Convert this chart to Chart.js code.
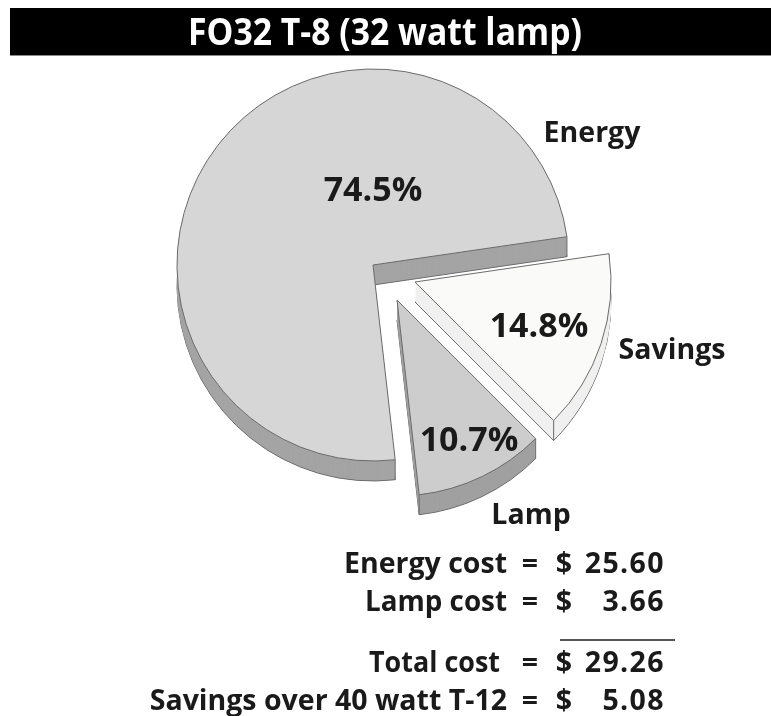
<!DOCTYPE html>
<html>
<head>
<meta charset="utf-8">
<title>FO32 T-8</title>
<script src="https://cdn.jsdelivr.net/npm/chart.js@4"></script>
<style>
  html, body { margin: 0; padding: 0; background: #fff; }
  /* the reference is a soft, scaled-up scan */
  canvas { display: block; filter: blur(0.6px); }
</style>
</head>
<body>
<canvas id="chartdiv" width="771" height="716"></canvas>
<script>
const titleText = "FO32 T-8 (32 watt lamp)";
const categories = ["Energy", "Savings", "Lamp"];
const shares = [74.5, 14.8, 10.7];
const shareLabels = ["74.5%", "14.8%", "10.7%"];
const costNames = ["Energy cost", "Lamp cost", "Total cost", "Savings over 40 watt T-12"];
const costAmounts = ["25.60", "3.66", "29.26", "5.08"];

const topColors = ["#d6d6d6", "#fafaf9", "#cdcdcd"];
const sideColors = ["#a4a4a4", "#f1f0f0", "#a0a0a0"];
// how far each slice is pulled out of the pie, in px
const pulled = [[0, 0], [42, 17], [24, 35]];
const depth = 20;
const font = "'Open Sans', sans-serif";

function slicePath(ctx, arc) {
    ctx.beginPath();
    ctx.moveTo(arc.x, arc.y);
    ctx.arc(arc.x, arc.y, arc.outerRadius, arc.startAngle, arc.endAngle);
    ctx.closePath();
}

const explodedPie = {
    id: "explodedPie",
    beforeDatasetsDraw(chart) {
        const ctx = chart.ctx;
        const arcs = chart.getDatasetMeta(0).data;
        // sides first, so the tops cover whatever is hidden
        arcs.forEach((arc, i) => {
            ctx.save();
            ctx.translate(pulled[i][0], pulled[i][1]);
            ctx.fillStyle = sideColors[i];
            ctx.strokeStyle = "#6b6b6b";
            ctx.lineWidth = 1;
            for (let d = depth; d > 0; d--) {
                ctx.save();
                ctx.translate(0, d);
                slicePath(ctx, arc);
                ctx.fill();
                if (d === depth) ctx.stroke();
                ctx.restore();
            }
            [arc.startAngle, arc.endAngle].forEach(a => {
                const ex = arc.x + Math.cos(a) * arc.outerRadius;
                const ey = arc.y + Math.sin(a) * arc.outerRadius;
                ctx.beginPath();
                ctx.moveTo(ex, ey);
                ctx.lineTo(ex, ey + depth);
                ctx.stroke();
            });
            ctx.restore();
        });
        arcs.forEach((arc, i) => {
            ctx.save();
            ctx.translate(pulled[i][0], pulled[i][1]);
            arc.draw(ctx);
            ctx.restore();
        });
        return false;
    },
    afterDraw(chart) {
        const ctx = chart.ctx;
        ctx.save();
        // title band
        ctx.fillStyle = "#000";
        ctx.fillRect(10, 8, 761, 47);
        ctx.fillStyle = "#8a8a8a";
        ctx.fillRect(10, 55, 761, 1);
        ctx.fillStyle = "#fff";
        ctx.textAlign = "center";
        ctx.textBaseline = "alphabetic";
        ctx.font = "bold 38px " + font;
        ctx.fillText(titleText, 385, 45, 394);

        ctx.fillStyle = "#1a1a1a";
        // share inside each slice
        const shareAt = [[373, 201], [539, 337], [469, 451]];
        ctx.font = "bold 34px " + font;
        shareLabels.forEach((s, i) => ctx.fillText(s, shareAt[i][0], shareAt[i][1]));
        // slice names
        const nameAt = [[592, 142], [672, 359], [531, 524]];
        ctx.font = "bold 28.5px " + font;
        categories.forEach((c, i) => ctx.fillText(c, nameAt[i][0], nameAt[i][1]));

        // cost table
        const rows = [573, 611, 672, 710];
        const nameRight = [507, 507, 500, 507];
        const nameWidth = [163, 142, 131, 360];
        costNames.forEach((name, i) => {
            ctx.textAlign = "right";
            ctx.fillText(name, nameRight[i], rows[i], nameWidth[i]);
            ctx.letterSpacing = "1.4px";
            ctx.fillText(costAmounts[i], 665, rows[i]);
            ctx.letterSpacing = "0px";
            ctx.textAlign = "center";
            ctx.fillText("=", 530, rows[i]);
            ctx.fillText("$", 564, rows[i]);
        });
        ctx.fillStyle = "#555";
        ctx.fillRect(560, 639, 115, 2);
        ctx.restore();
    }
};

new Chart(document.getElementById("chartdiv"), {
    type: "pie",
    data: {
        labels: categories,
        datasets: [{
            data: shares,
            backgroundColor: topColors,
            borderColor: "#6b6b6b",
            borderWidth: 1,
            borderJoinStyle: "miter"
        }]
    },
    options: {
        responsive: false,
        animation: false,
        rotation: 173.5,
        layout: { padding: { left: 176.5, top: 68.5, right: 201.5, bottom: 254.5 } },
        plugins: { legend: { display: false }, tooltip: { enabled: false } }
    },
    plugins: [explodedPie]
});
</script>
</body>
</html>
